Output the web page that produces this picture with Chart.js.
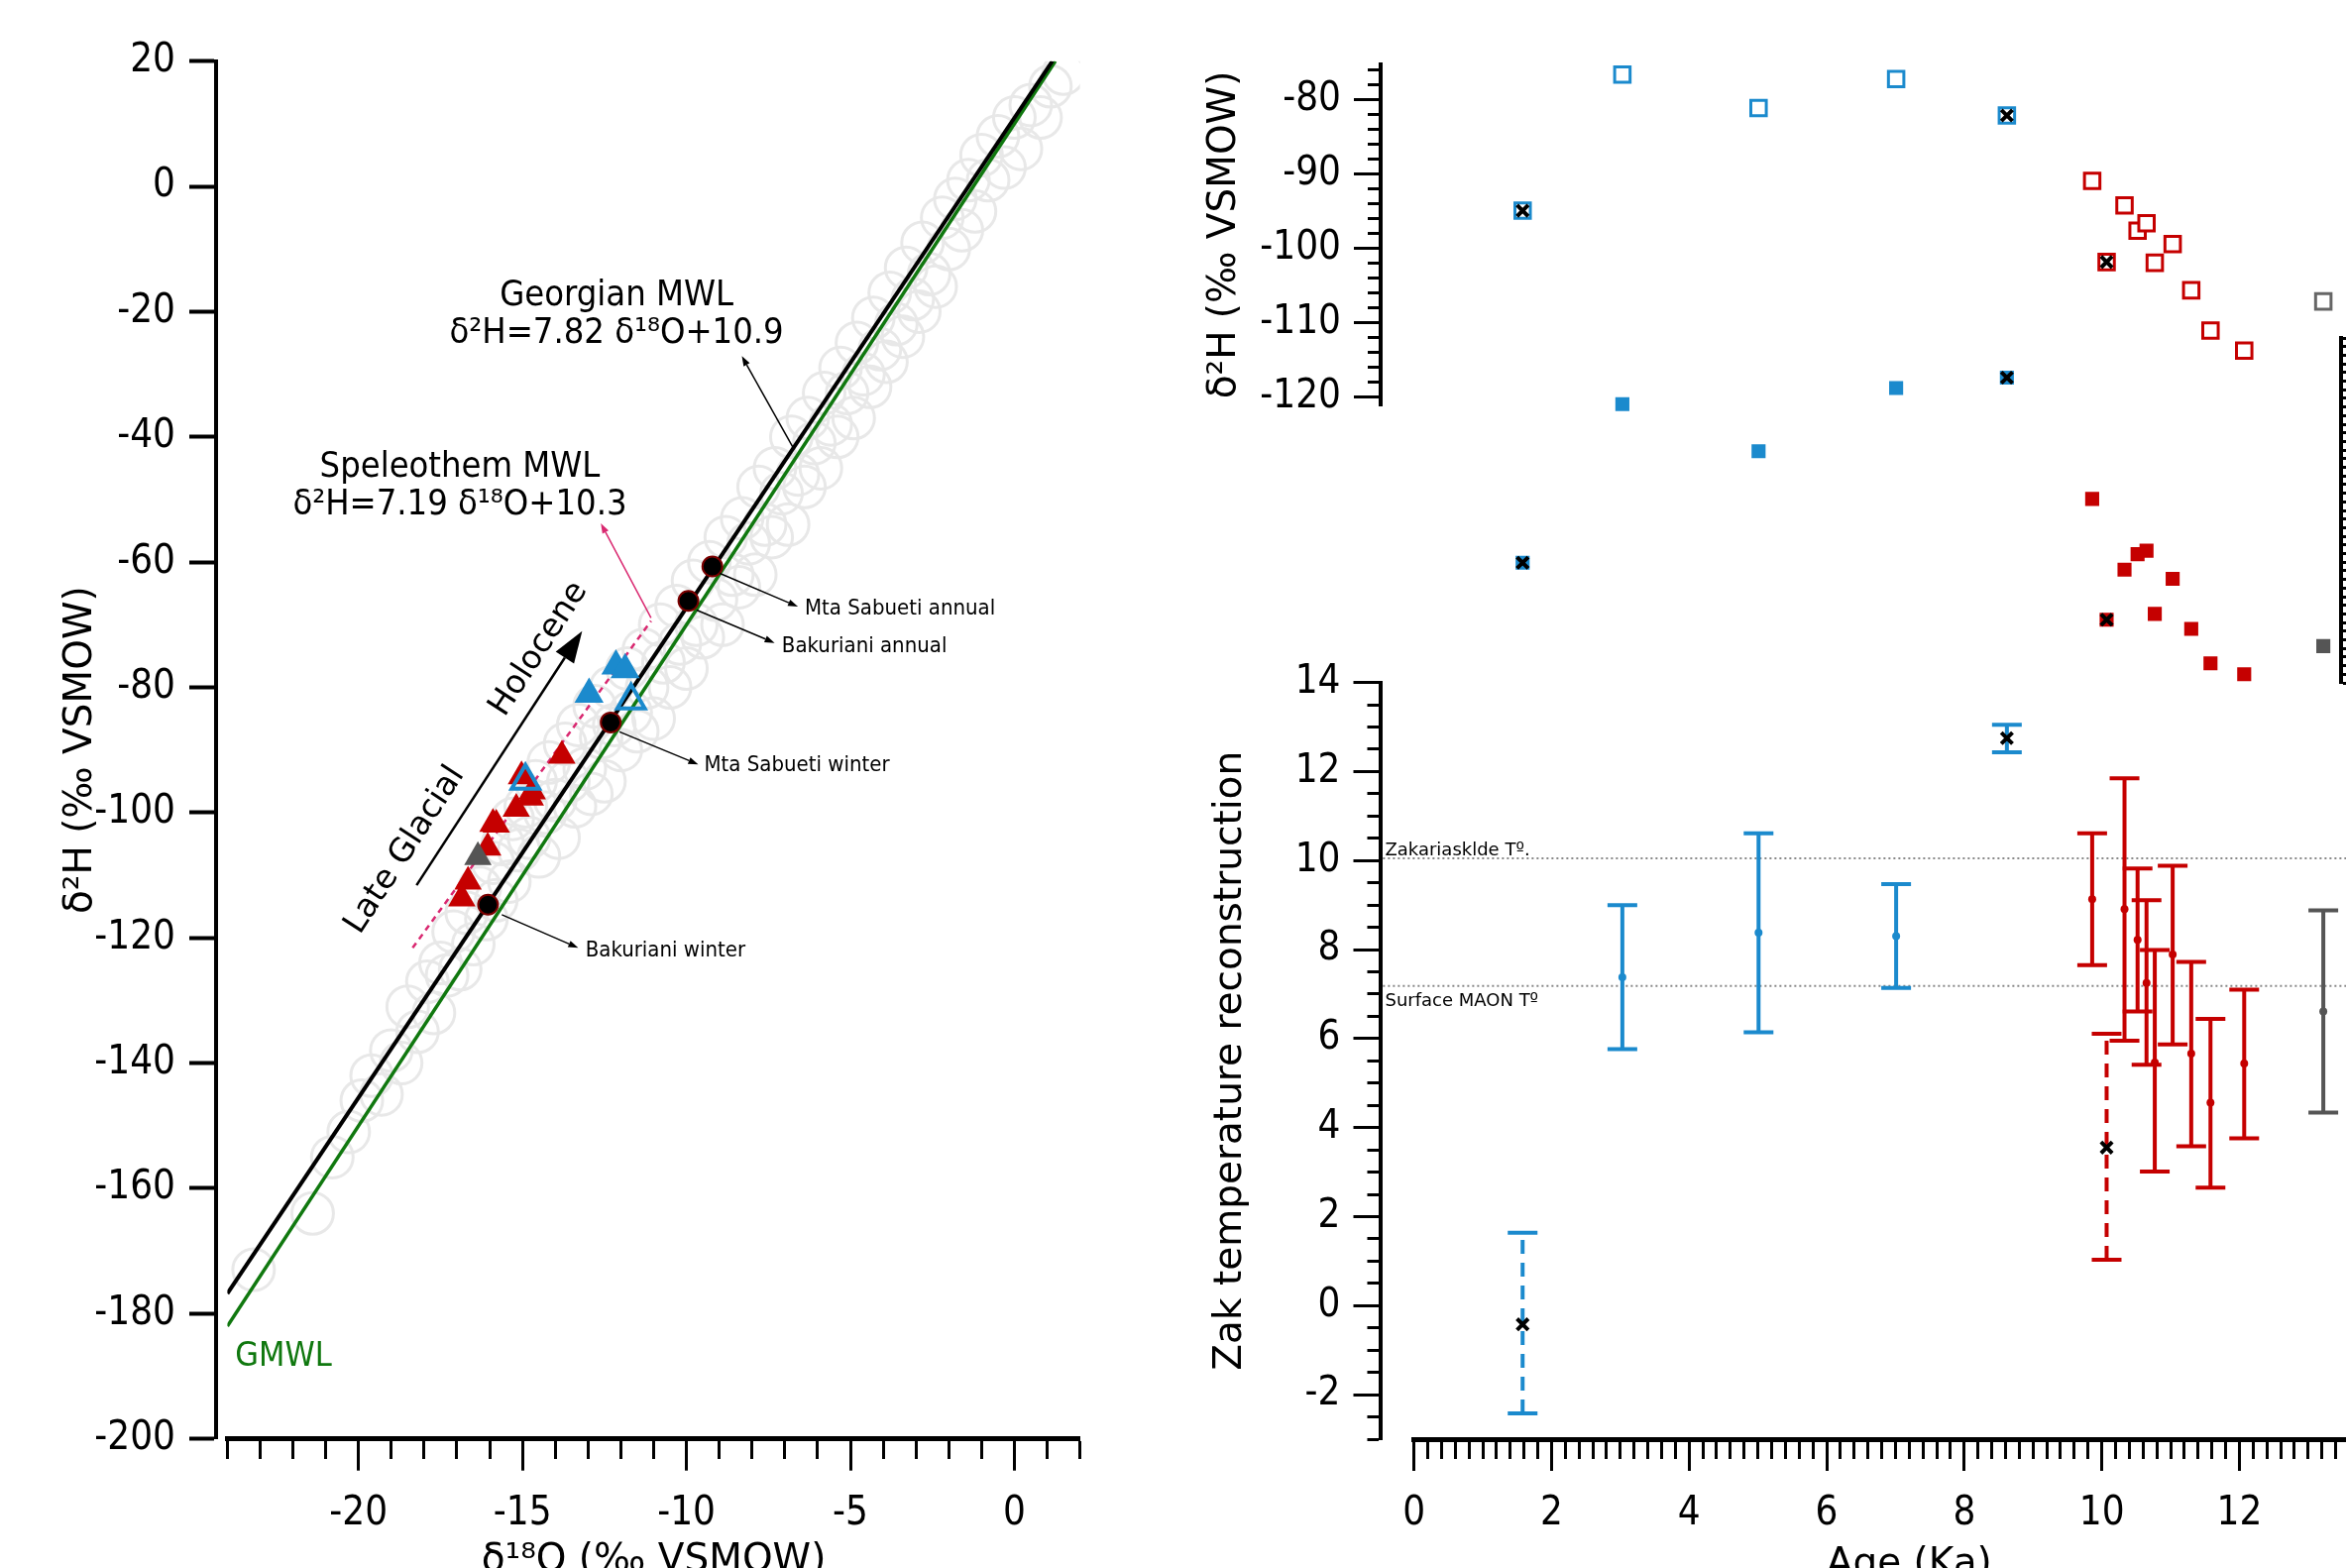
<!DOCTYPE html>
<html>
<head>
<meta charset="utf-8">
<script src="https://cdn.jsdelivr.net/npm/chart.js@4.4.1/dist/chart.umd.min.js"></script>
<style>
  html, body { margin: 0; padding: 0; width: 2367px; height: 1582px; overflow: hidden; background: #fff; }
  #left { position: absolute; left: 0; top: 0; }
  #right { position: absolute; left: 1150px; top: 0; }
</style>
</head>
<body>
<canvas id="left" width="1150" height="1582"></canvas>
<canvas id="right" width="1300" height="1582"></canvas>
<script>
// ---- fluid inclusion samples (same samples in both panels) ----
const sampleAge   = [1.58, 3.03, 5.01, 7.01, 8.62, 9.86, 10.07, 10.33, 10.52, 10.65, 10.77, 11.03, 11.30, 11.58, 12.07, 13.22]
const sampleGroup = ['hol','hol','hol','hol','hol','lg','lg','lg','lg','lg','lg','lg','lg','lg','lg','unk']
const sampleD2H   = [-94.9, -76.6, -81.1, -77.2, -82.1, -90.9, -101.8, -94.2, -97.6, -96.6, -101.9, -99.4, -105.6, -111.0, -113.7, -107.1]
const sampleD18O  = [-14.91, -12.15, -12.97, -11.87, -11.69, -13.80, -15.90, -15.03, -14.76, -14.70, -15.80, -15.19, -16.06, -16.66, -16.85, -16.36]
const crossMark   = [true, false, false, false, true, false, true, false, false, false, false, false, false, false, false, false]
const dashedBar   = [true, false, false, false, false, false, true, false, false, false, false, false, false, false, false, false]
const openTri     = [true, false, false, false, true, false, false, false, false, false, false, false, false, false, false, false]
const tempMid = [-0.42, 7.38, 8.38, 8.30, 12.75, 9.13, 3.55, 8.91, 8.22, 7.25, 5.46, 7.89, 5.66, 4.56, 5.44, 6.61]
const tempLo  = [-2.42, 5.76, 6.14, 7.14, 12.43, 7.65, 1.03, 5.95, 6.61, 5.41, 3.01, 5.87, 3.58, 2.65, 3.76, 4.34]
const tempHi  = [1.64, 9.00, 10.61, 9.47, 13.05, 10.61, 6.11, 11.85, 9.82, 9.11, 7.99, 9.88, 7.72, 6.44, 7.10, 8.88]

// ---- reference temperatures ----
const refTempNames = ['Zakariasklde Tº.', 'Surface MAON Tº']
const refTemps = [10.05, 7.18]

// ---- precipitation stations ----
const stationNames = ['Mta Sabueti annual', 'Bakuriani annual', 'Mta Sabueti winter', 'Bakuriani winter']
const stationD18O = [-9.21, -9.94, -12.31, -16.05]
const stationD2H  = [-60.7, -66.2, -85.6, -114.7]

// ---- meteoric water lines (end points) ----
const gmwlO   = [-24, 1.25],     gmwlH   = [-182, 20]
const georgO  = [-24, 1.16],     georgH  = [-176.8, 20]
const speleoO = [-18.35, -11.08], speleoH = [-121.6, -69.4]

// ---- Georgian precipitation (grey circles) ----
const precipD18O = [-23.2, -21.4, -20.8, -20.3, -19.9, -19.6, -19.3, -19.0, -18.7, -18.5, -18.2, -17.9, -17.7, -17.5, -17.3, -17.1, -16.9, -16.7, -16.5, -16.3,
  -16.1, -15.9, -15.8, -15.6, -15.4, -15.3, -15.1, -14.9, -14.8, -14.6, -14.5, -14.3, -14.2, -14.0, -13.9, -13.7, -13.6, -13.4, -13.3, -13.1,
  -12.9, -12.8, -12.6, -12.5, -12.3, -12.2, -12.0, -11.8, -11.7, -11.5, -11.3, -11.2, -11.0, -10.8, -10.7, -10.5, -10.3, -10.2, -10.0, -9.8,
  -9.7, -9.5, -9.3, -9.1, -8.9, -8.8, -8.6, -8.4, -8.3, -8.1, -7.9, -7.8, -7.6, -7.4, -7.3, -7.1, -6.9, -6.8, -6.6, -6.4,
  -6.3, -6.1, -5.9, -5.8, -5.6, -5.4, -5.3, -5.1, -4.9, -4.8, -4.6, -4.4, -4.3, -4.1, -3.9, -3.8, -3.6, -3.4, -3.3, -3.1,
  -2.9, -2.8, -2.6, -2.4, -2.2, -2.0, -1.8, -1.6, -1.4, -1.2, -1.0, -0.8, -0.5, -0.3, 0.0, 0.2, 0.5, 0.8, 1.1, 1.5]
const precipD2H = [-173, -164, -155, -151, -146, -142, -145, -138, -140, -131, -135, -127, -132, -124, -126, -119, -125, -116, -121, -112,
  -117, -108, -114, -105, -111, -101, -106, -99, -104, -95, -107, -100, -92, -98, -104, -89, -95, -99, -86, -93, -97, -83, -88, -95, -80,
  -86, -90, -77, -84, -87, -74, -80, -85, -70, -76, -80, -67, -73, -77, -63, -70, -72, -60, -66, -70, -56, -62, -64, -53, -57, -62, -48,
  -54, -56, -45, -49, -54, -40, -46, -48, -37, -41, -45, -33, -38, -40, -29, -33, -37, -25, -30, -32, -21, -26, -28, -17, -22, -24, -13,
  -18, -20, -9, -14, -16, -5, -10, -2, -7, 1, -4, 5, 1, 8, 3, 11, 6, 13, 11, 16, 18]

// ---- tick labels ----
const isoXLabels = [-20, -15, -10, -5, 0]
const isoYLabels = [20, 0, -20, -40, -60, -80, -100, -120, -140, -160, -180, -200]
const d2hLabels  = [-80, -90, -100, -110, -120]
const tempLabels = [-2, 0, 2, 4, 6, 8, 10, 12, 14]
const ageLabels  = [0, 2, 4, 6, 8, 10, 12, 14]

const BLUE = '#1b8acd', RED = '#c50000', GRAY = '#555555', PINK = '#d92870', GREEN = '#10780f'
const tickFont  = { family: "'Liberation Sans Narrow', 'DejaVu Sans Condensed', sans-serif", size: 40 }
const titleFont = { family: "'DejaVu Sans', sans-serif", size: 39 }
const eqFont    = "36px 'DejaVu Sans Condensed', 'DejaVu Sans', sans-serif"
const smallFont = "22px 'DejaVu Sans Condensed', 'DejaVu Sans', sans-serif"

const range = (a, b, step) => {
  const out = []
  for (let k = 0; a + k * step <= b + 1e-9; k++) out.push(Math.round((a + k * step) * 1000) / 1000)
  return out
}
const colorOf = g => g === 'hol' ? BLUE : g === 'lg' ? RED : GRAY
const idx = sampleAge.map((_, i) => i)

// move scales to fixed pixel boxes after chart.js has laid them out
const placeAxes = {
  id: 'placeAxes',
  afterLayout(chart, args, opts) {
    const boxes = opts.boxes || {}
    Object.keys(boxes).forEach(id => {
      const s = chart.scales[id], b = boxes[id]
      ;['left', 'right', 'top', 'bottom'].forEach(k => { if (b[k] !== undefined) s[k] = b[k] })
      s.width = s.right - s.left
      s.height = s.bottom - s.top
      s.configure()
    })
  }
}

function drawArrow(ctx, x1, y1, x2, y2, color, width, head, headW) {
  const ang = Math.atan2(y2 - y1, x2 - x1)
  const bx = x2 - head * Math.cos(ang), by = y2 - head * Math.sin(ang)
  ctx.save()
  ctx.strokeStyle = color; ctx.fillStyle = color; ctx.lineWidth = width
  ctx.beginPath(); ctx.moveTo(x1, y1); ctx.lineTo(bx, by); ctx.stroke()
  ctx.beginPath(); ctx.moveTo(x2, y2)
  ctx.lineTo(bx + headW / 2 * Math.sin(ang), by - headW / 2 * Math.cos(ang))
  ctx.lineTo(bx - headW / 2 * Math.sin(ang), by + headW / 2 * Math.cos(ang))
  ctx.closePath(); ctx.fill()
  ctx.restore()
}

// texts and arrows given in data units
const annotate = {
  id: 'annotate',
  afterDatasetsDraw(chart, args, opts) {
    const ctx = chart.ctx
    const xs = chart.scales.x
    ;(opts.arrows || []).forEach(a => {
      const ys = chart.scales[a.yAxis || opts.yAxis]
      drawArrow(ctx, xs.getPixelForValue(a.x1), ys.getPixelForValue(a.y1), xs.getPixelForValue(a.x2), ys.getPixelForValue(a.y2),
        a.color || '#000', a.width || 1.5, a.head || 10, a.headW || 7)
    })
    ;(opts.texts || []).forEach(t => {
      const ys = chart.scales[t.yAxis || opts.yAxis]
      ctx.save()
      ctx.translate(xs.getPixelForValue(t.x), ys.getPixelForValue(t.y))
      if (t.rotate) ctx.rotate(t.rotate * Math.PI / 180)
      ctx.font = t.font
      ctx.fillStyle = t.color || '#000'
      ctx.textAlign = t.align || 'center'
      ctx.textBaseline = t.baseline || 'middle'
      ctx.fillText(t.text, 0, 0)
      ctx.restore()
    })
  }
}

// ============ left panel: d18O vs d2H ============
const pts = (xs, ys) => xs.map((x, i) => ({ x, y: ys[i] }))
const pick = test => idx.filter(test).map(i => ({ x: sampleD18O[i], y: sampleD2H[i] }))

new Chart(document.getElementById('left'), {
  type: 'scatter',
  data: {
    datasets: [
      { label: 'stations', data: pts(stationD18O, stationD2H), pointStyle: 'circle', pointRadius: 10,
        backgroundColor: '#000', borderColor: '#7a0000', borderWidth: 2 },
      { label: 'Holocene (open)', data: pick(i => sampleGroup[i] === 'hol' && openTri[i]), pointStyle: 'triangle', pointRadius: 16,
        backgroundColor: 'rgba(0,0,0,0)', borderColor: BLUE, borderWidth: 4 },
      { label: 'Holocene', data: pick(i => sampleGroup[i] === 'hol' && !openTri[i]), pointStyle: 'triangle', pointRadius: 17,
        backgroundColor: BLUE, borderWidth: 0 },
      { label: 'undated', data: pick(i => sampleGroup[i] === 'unk'), pointStyle: 'triangle', pointRadius: 16,
        backgroundColor: GRAY, borderWidth: 0 },
      { label: 'Late Glacial', data: pick(i => sampleGroup[i] === 'lg'), pointStyle: 'triangle', pointRadius: 16,
        backgroundColor: RED, borderWidth: 0 },
      { label: 'Speleothem MWL', data: pts(speleoO, speleoH), showLine: true, pointRadius: 0,
        borderColor: PINK, borderWidth: 2.5, borderDash: [6, 5] },
      { label: 'Georgian MWL', data: pts(georgO, georgH), showLine: true, pointRadius: 0, borderColor: '#000', borderWidth: 4 },
      { label: 'GMWL', data: pts(gmwlO, gmwlH), showLine: true, pointRadius: 0, borderColor: GREEN, borderWidth: 3.5 },
      { label: 'precipitation', data: pts(precipD18O, precipD2H), pointStyle: 'circle', pointRadius: 21,
        backgroundColor: 'rgba(0,0,0,0)', borderColor: '#e8e8e8', borderWidth: 3 }
    ]
  },
  options: {
    responsive: false, animation: false, devicePixelRatio: 1, events: [],
    layout: { padding: { left: 229.4, right: 60.4, top: 61.7, bottom: 130.3 } },
    scales: {
      x: {
        type: 'linear', min: -24, max: 2, bounds: 'data',
        afterFit: s => { s.height = 0 },
        afterBuildTicks: s => { s.ticks = range(-24, 2, 1).map(v => ({ value: v })) },
        ticks: { autoSkip: false, maxRotation: 0, padding: 20, color: '#000', font: tickFont,
          callback: v => isoXLabels.includes(v) ? String(v) : '' },
        grid: { drawOnChartArea: false, tickLength: 32, tickWidth: 3, tickColor: '#000',
          tickBorderDash: c => isoXLabels.includes(c.tick.value) ? [] : [18, 100] },
        border: { color: '#000', width: 5 },
        title: { display: true, text: 'δ¹⁸O (‰ VSMOW)', font: titleFont, color: '#000', padding: 0 }
      },
      y: {
        type: 'linear', min: -200, max: 20, bounds: 'data',
        afterFit: s => { s.width = 0 },
        afterBuildTicks: s => { s.ticks = isoYLabels.map(v => ({ value: v })) },
        ticks: { autoSkip: false, padding: 14, color: '#000', font: tickFont, callback: v => String(v) },
        grid: { drawOnChartArea: false, tickLength: 27, tickWidth: 4, tickColor: '#000' },
        border: { color: '#000', width: 4 },
        title: { display: true, text: 'δ²H (‰ VSMOW)', font: titleFont, color: '#000', padding: 0 }
      }
    },
    plugins: {
      legend: { display: false }, tooltip: { enabled: false },
      placeAxes: { boxes: { y: { left: 58, right: 218 }, x: { top: 1451.7, bottom: 1598 } } },
      annotate: {
        yAxis: 'y',
        arrows: [
          { x1: -6.76, y1: -41.6, x2: -8.31, y2: -27.1 },
          { x1: -11.08, y1: -68.9, x2: -12.61, y2: -53.8, color: PINK },
          { x1: -8.98, y1: -61.8, x2: -6.6, y2: -67.1 },
          { x1: -9.69, y1: -67.65, x2: -7.31, y2: -72.9 },
          { x1: -12.04, y1: -87.1, x2: -9.64, y2: -92.3 },
          { x1: -15.63, y1: -116.3, x2: -13.3, y2: -121.6 },
          { x1: -18.23, y1: -111.6, x2: -13.18, y2: -71.0, width: 2.5, head: 32, headW: 22 }
        ],
        texts: [
          { x: -12.13, y: -17.5, text: 'Georgian MWL', font: eqFont },
          { x: -12.13, y: -23.5, text: 'δ²H=7.82 δ¹⁸O+10.9', font: eqFont },
          { x: -16.91, y: -44.9, text: 'Speleothem MWL', font: eqFont },
          { x: -16.91, y: -50.9, text: 'δ²H=7.19 δ¹⁸O+10.3', font: eqFont },
          { x: -6.39, y: -67.5, text: stationNames[0], font: smallFont, align: 'left' },
          { x: -7.09, y: -73.5, text: stationNames[1], font: smallFont, align: 'left' },
          { x: -9.46, y: -92.5, text: stationNames[2], font: smallFont, align: 'left' },
          { x: -13.08, y: -122.0, text: stationNames[3], font: smallFont, align: 'left' },
          { x: -23.76, y: -186.9, text: 'GMWL', font: "34px 'DejaVu Sans Condensed', sans-serif", color: GREEN, align: 'left' },
          { x: -18.58, y: -106.0, text: 'Late Glacial', font: "33px 'DejaVu Sans', sans-serif", rotate: -57 },
          { x: -14.5, y: -73.9, text: 'Holocene', font: "33px 'DejaVu Sans', sans-serif", rotate: -57 }
        ]
      }
    }
  },
  plugins: [placeAxes, annotate]
})

// ============ right panel: isotopes and temperature vs age ============
const crossIdx = idx.filter(i => crossMark[i])
const whiskers = idx.map(i => ({
  label: 'bar ' + i, yAxisID: 'yT', data: [{ x: sampleAge[i], y: tempLo[i] }, { x: sampleAge[i], y: tempHi[i] }],
  showLine: true, pointRadius: 0, borderColor: colorOf(sampleGroup[i]), borderWidth: 4,
  borderDash: dashedBar[i] ? [14, 9] : []
}))
const refLines = refTemps.map((t, i) => ({
  label: refTempNames[i], yAxisID: 'yT', data: [{ x: -0.45, y: t }, { x: 14.4, y: t }],
  showLine: true, pointRadius: 0, borderColor: '#888', borderWidth: 2, borderDash: [2, 3], clip: false
}))
const leftMinor = (labels, len, minor) => c => labels.includes(c.tick.value) ? [] : [0, len - minor, minor, 0]

new Chart(document.getElementById('right'), {
  type: 'scatter',
  data: {
    datasets: [
      { label: 'x temp', yAxisID: 'yT', data: crossIdx.map(i => ({ x: sampleAge[i], y: tempMid[i] })),
        pointStyle: 'crossRot', pointRadius: 8, borderColor: '#000', borderWidth: 4 },
      { label: 'x d2H', yAxisID: 'yH', data: crossIdx.map(i => ({ x: sampleAge[i], y: sampleD2H[i] })),
        pointStyle: 'crossRot', pointRadius: 8, borderColor: '#000', borderWidth: 4 },
      { label: 'x d18O', yAxisID: 'yO', data: crossIdx.map(i => ({ x: sampleAge[i], y: sampleD18O[i] })),
        pointStyle: 'crossRot', pointRadius: 8, borderColor: '#000', borderWidth: 4 },
      { label: 'd2H', yAxisID: 'yH', data: idx.map(i => ({ x: sampleAge[i], y: sampleD2H[i] })),
        pointStyle: 'rect', pointRadius: 11, backgroundColor: '#fff', borderWidth: 3,
        borderColor: idx.map(i => sampleGroup[i] === 'unk' ? '#666' : colorOf(sampleGroup[i])) },
      { label: 'd18O', yAxisID: 'yO', data: idx.map(i => ({ x: sampleAge[i], y: sampleD18O[i] })),
        pointStyle: 'rect', pointRadius: 10, borderWidth: 0,
        backgroundColor: idx.map(i => colorOf(sampleGroup[i])) },
      { label: 'temp', yAxisID: 'yT', data: idx.filter(i => !crossMark[i]).map(i => ({ x: sampleAge[i], y: tempMid[i] })),
        pointStyle: 'circle', pointRadius: 4, borderWidth: 0,
        backgroundColor: idx.filter(i => !crossMark[i]).map(i => colorOf(sampleGroup[i])) },
      { label: 'caps', yAxisID: 'yT', data: idx.flatMap(i => [{ x: sampleAge[i], y: tempLo[i] }, { x: sampleAge[i], y: tempHi[i] }]),
        pointStyle: 'line', pointRadius: 15, borderWidth: 4,
        borderColor: idx.flatMap(i => [colorOf(sampleGroup[i]), colorOf(sampleGroup[i])]) },
      ...whiskers,
      ...refLines
    ]
  },
  options: {
    responsive: false, animation: false, devicePixelRatio: 1, events: [],
    layout: { padding: { left: 276.6, right: 24, top: 65, bottom: 130 } },
    scales: {
      x: {
        type: 'linear', min: 0, max: 14.4, bounds: 'data',
        afterFit: s => { s.height = 0 },
        afterBuildTicks: s => { s.ticks = range(0, 14.4, 0.2).map(v => ({ value: v })) },
        ticks: { autoSkip: false, maxRotation: 0, padding: 20, color: '#000', font: tickFont,
          callback: v => ageLabels.includes(v) ? String(v) : '' },
        grid: { drawOnChartArea: false, tickLength: 32, tickWidth: 3, tickColor: '#000',
          tickBorderDash: c => ageLabels.includes(c.tick.value) ? [] : [17, 100] },
        border: { color: '#000', width: 5 },
        title: { display: true, text: 'Age (Ka)', font: titleFont, color: '#000', padding: 0 }
      },
      yH: {
        type: 'linear', position: 'left', min: -121.07, max: -75.24, bounds: 'data',
        afterFit: s => { s.width = 0 },
        afterBuildTicks: s => { s.ticks = range(-120, -76, 2).map(v => ({ value: v })) },
        ticks: { autoSkip: false, padding: 13, color: '#000', font: tickFont,
          callback: v => d2hLabels.includes(v) ? String(v) : '' },
        grid: { drawOnChartArea: false, tickLength: 27, tickWidth: 3, tickColor: '#000',
          tickBorderDash: leftMinor(d2hLabels, 27, 13) },
        border: { color: '#000', width: 4 },
        title: { display: true, text: 'δ²H (‰ VSMOW)', font: titleFont, color: '#000', padding: 0 }
      },
      yT: {
        type: 'linear', position: 'left', min: -3, max: 14, bounds: 'data',
        afterFit: s => { s.width = 0 },
        afterBuildTicks: s => { s.ticks = range(-3, 14, 0.5).map(v => ({ value: v })) },
        ticks: { autoSkip: false, padding: 13, color: '#000', font: tickFont,
          callback: v => tempLabels.includes(v) ? String(v) : '' },
        grid: { drawOnChartArea: false, tickLength: 27, tickWidth: 3, tickColor: '#000',
          tickBorderDash: leftMinor(tempLabels, 27, 13) },
        border: { color: '#000', width: 4 },
        title: { display: true, text: 'Zak temperature reconstruction', font: titleFont, color: '#000', padding: 0 }
      },
      yO: {
        type: 'linear', position: 'right', min: -17, max: -11, bounds: 'data',
        afterFit: s => { s.width = 0 },
        afterBuildTicks: s => { s.ticks = range(-17, -11, 0.15).map(v => ({ value: v })) },
        ticks: { display: false },
        grid: { drawOnChartArea: false, tickLength: 14, tickWidth: 3, tickColor: '#000' },
        border: { color: '#000', width: 4 }
      }
    },
    plugins: {
      legend: { display: false }, tooltip: { enabled: false },
      placeAxes: { boxes: {
        yH: { left: 62, right: 243, top: 65, bottom: 409 },
        yT: { left: 68, right: 242.5, top: 688.6, bottom: 1452 },
        yO: { left: 1212, right: 1240, top: 341, bottom: 689 },
        x: { top: 1452, bottom: 1602 }
      } },
      annotate: {
        yAxis: 'yT',
        texts: [
          { x: -0.42, y: 10.12, text: refTempNames[0], font: "18px 'DejaVu Sans', sans-serif", align: 'left', baseline: 'alphabetic' },
          { x: -0.42, y: 6.73, text: refTempNames[1], font: "18px 'DejaVu Sans', sans-serif", align: 'left', baseline: 'alphabetic' }
        ]
      }
    }
  },
  plugins: [placeAxes, annotate]
})
</script>
</body>
</html>
